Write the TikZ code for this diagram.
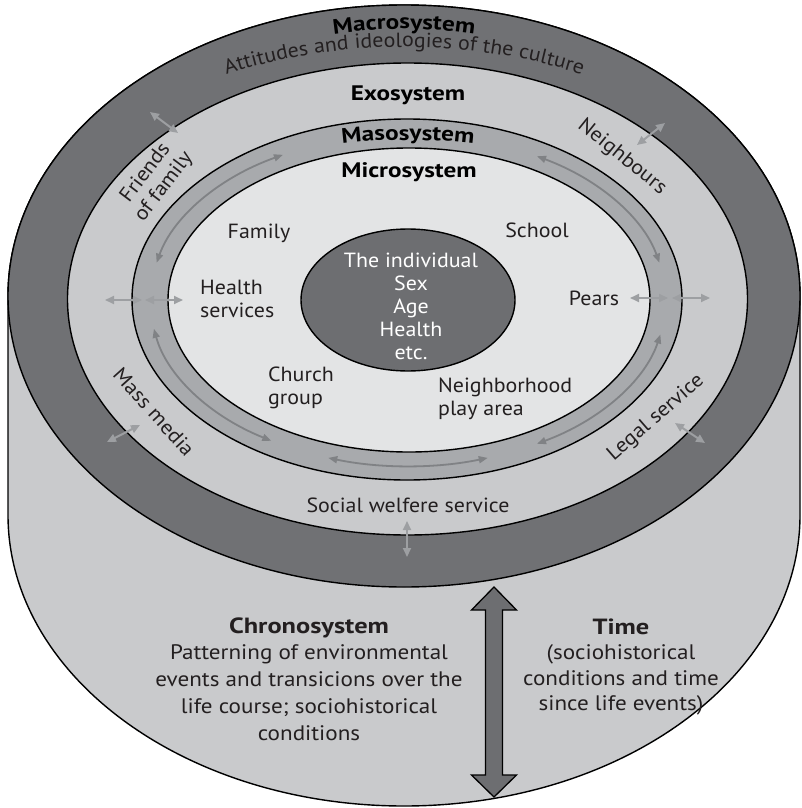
\documentclass[tikz,border=0pt]{standalone}
\usepackage{fontspec}
\setmainfont{PT Sans}[FakeStretch=1.07]
\newfontfamily\hdfam{PT Sans}[FakeStretch=1.2]
\newfontfamily\btfam{PT Sans}[FakeStretch=1.1]
\usetikzlibrary{arrows.meta,decorations.text}
\definecolor{macroc}{HTML}{707174}
\definecolor{exoc}{HTML}{C9CACC}
\definecolor{mesoc}{HTML}{A8AAAD}
\definecolor{microc}{HTML}{E3E4E5}
\definecolor{indivc}{HTML}{6D6E71}
\definecolor{sidec}{HTML}{C9CACC}
\definecolor{marrc}{HTML}{808285}
\definecolor{xarrc}{HTML}{9D9FA2}
\definecolor{txtc}{HTML}{231F20}
\newcommand\lblfont{\fontsize{20.5}{23}\selectfont}
\newcommand\hdfont{\hdfam\bfseries\fontsize{21}{24}\selectfont}
\newcommand\btfont{\btfam\fontsize{21}{26.8}\selectfont}
\newcommand\btbold{\hdfam\bfseries\fontsize{22}{26.8}\selectfont}
\begin{document}
\begin{tikzpicture}[x=1pt,y=1pt,
  ring/.style={draw=black,line width=1.4pt},
  lbl/.style={font=\lblfont,text=txtc,inner sep=0pt},
  hd/.style={font=\hdfont,text=black,inner sep=0pt},
  bt/.style={font=\btfont,text=txtc,inner sep=0pt,align=center},
  marr/.style={draw=marrc,line width=1.8pt,{Triangle[length=9pt,width=7pt]}-{Triangle[length=9pt,width=7pt]}},
  xarr/.style={draw=xarrc,line width=2pt,{Triangle[length=9pt,width=8pt]}-{Triangle[length=9pt,width=8pt]}}
]
\fill[white] (0,0) rectangle (801,-808);
\useasboundingbox (0,0) rectangle (801,-808);
% cylinder side
\draw[ring,fill=sidec] (8,-296) -- (8,-515) arc[start angle=180,end angle=360,x radius=396,y radius=291] -- (800,-296) arc[start angle=0,end angle=180,x radius=396,y radius=291] -- cycle;
% rings
\draw[ring,fill=macroc] (404,-296) ellipse[x radius=396,y radius=291];
\draw[ring,fill=exoc] (407.5,-299) ellipse[x radius=340,y radius=236];
\draw[ring,fill=mesoc] (407,-299.5) ellipse[x radius=275,y radius=180.5];
\draw[ring,fill=microc] (409,-300) ellipse[x radius=241,y radius=152];
\draw[ring,fill=indivc] (408,-300) ellipse[x radius=107,y radius=71];
% arrows in mesosystem
\coordinate (mc) at (408,-300);
\draw[marr] (mc) ++(119:258 and 166) arc[start angle=119,end angle=167,x radius=258,y radius=166];
\draw[marr] (mc) ++(13:258 and 166) arc[start angle=13,end angle=60,x radius=258,y radius=166];
\draw[marr] (mc) ++(190:258 and 166) arc[start angle=190,end angle=238,x radius=258,y radius=166];
\draw[marr] (mc) ++(252:258 and 166) arc[start angle=252,end angle=288,x radius=258,y radius=166];
\draw[marr] (mc) ++(300:258 and 166) arc[start angle=300,end angle=348,x radius=258,y radius=166];
% crossing arrows
\coordinate (l1a) at (105,-300); \coordinate (l1b) at (142,-300);
\coordinate (l2a) at (145,-300); \coordinate (l2b) at (183,-300);
\coordinate (r1a) at (630,-298); \coordinate (r1b) at (668,-298);
\coordinate (r2a) at (672,-298); \coordinate (r2b) at (710,-298);
\coordinate (tla) at (150,-112); \coordinate (tlb) at (178,-133);
\coordinate (tra) at (637,-145); \coordinate (trb) at (665,-123);
\coordinate (bla) at (107,-442); \coordinate (blb) at (140,-425);
\coordinate (bra) at (675,-423); \coordinate (brb) at (705,-443);
\coordinate (bma) at (407,-521); \coordinate (bmb) at (407,-557);
\draw[xarr] (l1a) -- (l1b);
\draw[xarr] (l2a) -- (l2b);
\draw[xarr] (r1a) -- (r1b);
\draw[xarr] (r2a) -- (r2b);
\draw[xarr] (tla) -- (tlb);
\draw[xarr] (tra) -- (trb);
\draw[xarr] (bla) -- (blb);
\draw[xarr] (bra) -- (brb);
\draw[xarr] (bma) -- (bmb);
% time arrow
\draw[fill=indivc,draw=black,line width=1.3pt,line join=miter]
  (494,-587) -- (471.5,-610) -- (485.5,-610) -- (485.5,-775) -- (471.5,-775) -- (494,-797)
  -- (516.5,-775) -- (502.5,-775) -- (502.5,-610) -- (516.5,-610) -- cycle;
% curved titles
\path[decorate,decoration={text along path,text align=center,text={|\hdfont|Macrosystem}}]
  (404,-296) ++(120:360 and 267) arc[start angle=120,end angle=60,x radius=360,y radius=267];
\path[decorate,decoration={text along path,text align=center,text={|\lblfont\color{txtc}|Attitudes and ideologies of the culture}}]
  (404,-296) ++(132:389 and 249) arc[start angle=132,end angle=48,x radius=389,y radius=249];
\path[decorate,decoration={text along path,text align=center,text={|\hdfont|Masosystem}}]
  (408,-300) ++(115:300 and 160) arc[start angle=115,end angle=65,x radius=300,y radius=160];
% labels
\node[hd] (exoT) at (408,-95) {Exosystem};
\node[hd] (microT) at (409,-172) {Microsystem};
\node[lbl,text=white,align=center] (ind) at (411,-306) {The individual\\Sex\\Age\\Health\\etc.};
\node[lbl] (family) at (259,-233) {Family};
\node[lbl] (school) at (537,-230) {School};
\node[lbl,align=left,anchor=west] (health) at (200,-299) {Health\\services};
\node[lbl] (pears) at (594,-298) {Pears};
\node[lbl,align=left,anchor=west] (church) at (268,-388) {Church\\group};
\node[lbl,align=left,anchor=west] (nbh) at (438,-399) {Neighborhood\\play area};
\node[lbl] (social) at (408,-505) {Social welfere service};
\node[lbl,align=center,rotate=53] (friends) at (155,-180) {Friends\\of family};
\node[lbl,rotate=-39] (neigh) at (622,-157) {Neighbours};
\node[lbl,rotate=-48] (mass) at (154,-412) {Mass media};
\node[lbl,rotate=41] (legal) at (656,-418) {Legal service};
\node[bt] (chrono) at (309,-679)
  {{\btbold Chronosystem}\\Patterning of environmental\\events and transicions over the\\life course; sociohistorical\\conditions};
\node[bt,font=\btfam\fontsize{21}{25.5}\selectfont] (time) at (621,-667)
  {{\btbold Time}\\(sociohistorical\\conditions and time\\since life events)};
\end{tikzpicture}
\end{document}
